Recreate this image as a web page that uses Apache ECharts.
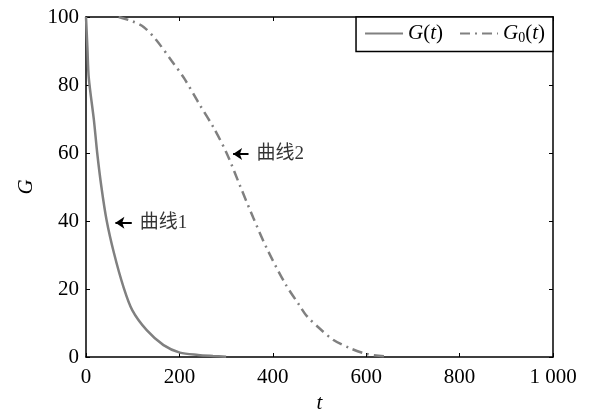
<!DOCTYPE html>
<html>
<head>
<meta charset="utf-8">
<script src="https://cdn.jsdelivr.net/npm/echarts@6/dist/echarts.min.js"></script>
<style>html,body{margin:0;padding:0;background:#fff;}#c{width:597px;height:411px;}</style>
</head>
<body>
<div id="c"></div>
<script>
// Curve 1: G(t)
const t1 = [0, 3, 6, 17, 24, 33, 44, 60, 80, 99, 130, 166, 201, 240, 272, 300];
const g1 = [100, 91, 82, 69.6, 60, 50, 40.3, 30.5, 20.7, 13.8, 7.9, 3.5, 1.3, 0.6, 0.3, 0.1];
// Curve 2: G0(t)
const t2 = [70, 100, 124, 150, 184, 210, 240, 273, 301, 330, 358, 387, 426, 458, 473, 501, 530, 565, 601, 644];
const g2 = [100, 98.7, 97, 93.3, 87, 82, 75, 67.5, 60, 50.3, 41, 32, 21.7, 15, 12, 8.3, 5, 2.6, 0.9, 0.1];
// Tick labels
const xTicks = [0, 200, 400, 600, 800, 1000];
const xTickLabels = ['0', '200', '400', '600', '800', '1 000'];
const yTicks = [0, 20, 40, 60, 80, 100];
const yTickLabels = ['0', '20', '40', '60', '80', '100'];
// Annotations
const annotText = ['曲线1', '曲线2'];
const annotTip = [[63, 39.5], [315, 59.7]];
const annotTail = [[98, 39.5], [348, 59.7]];

const serif = '"Liberation Serif", "Times New Roman", serif';
const chart = echarts.init(document.getElementById('c'));

const pair = (ts, gs) => ts.map((t, i) => [t, gs[i]]);
const gray = '#808080';

const axisCommon = {
  axisLine: { show: true, onZero: false, lineStyle: { color: '#000', width: 1.5 } },
  axisTick: { show: true, inside: true, length: 4, lineStyle: { color: '#000', width: 1 } },
  splitLine: { show: false }
};

chart.setOption({
  backgroundColor: '#fff',
  animation: false,
  grid: { left: 86, right: 44, top: 17, bottom: 54, containLabel: false, outerBoundsMode: 'none' },
  legend: {
    right: 44, top: 17,
    orient: 'horizontal',
    backgroundColor: '#fff',
    borderColor: '#000', borderWidth: 1.5, borderRadius: 0,
    padding: [6, 8, 6, 8],
    itemGap: 16, itemWidth: 38, itemHeight: 14,
    itemStyle: { color: 'rgba(0,0,0,0)', borderColor: 'rgba(0,0,0,0)', borderWidth: 0 },
    data: ['G(t)', 'G0(t)'],
    formatter: function (name) {
      return name === 'G(t)' ? '{i|G}({i|t})' : '{i|G}{s|0}({i|t})';
    },
    textStyle: {
      fontFamily: serif, fontSize: 21, color: '#000',
      rich: {
        i: { fontFamily: serif, fontSize: 21, fontStyle: 'italic', color: '#000' },
        s: { fontFamily: serif, fontSize: 14, color: '#000', verticalAlign: 'bottom', padding: [10, 0, 0, 0] }
      }
    }
  },
  xAxis: [
    Object.assign({}, axisCommon, {
      type: 'value', min: 0, max: 1000, interval: 200, position: 'bottom',
      name: 't', nameLocation: 'middle', nameGap: 32,
      nameTextStyle: { fontFamily: serif, fontSize: 21, fontStyle: 'italic', color: '#000' },
      axisLabel: {
        margin: 10, fontFamily: serif, fontSize: 21, color: '#000',
        formatter: v => xTickLabels[xTicks.indexOf(v)]
      }
    }),
    Object.assign({}, axisCommon, {
      type: 'value', min: 0, max: 1000, interval: 200, position: 'top',
      axisLabel: { show: false }
    })
  ],
  yAxis: [
    Object.assign({}, axisCommon, {
      type: 'value', min: 0, max: 100, interval: 20, position: 'left',
      name: 'G', nameLocation: 'middle', nameGap: 38, nameRotate: 90,
      nameTextStyle: { fontFamily: serif, fontSize: 21, fontStyle: 'italic', color: '#000' },
      axisLabel: {
        margin: 7, fontFamily: serif, fontSize: 21, color: '#000',
        formatter: v => yTickLabels[yTicks.indexOf(v)]
      }
    }),
    Object.assign({}, axisCommon, {
      type: 'value', min: 0, max: 100, interval: 20, position: 'right',
      axisLabel: { show: false }
    })
  ],
  series: [
    {
      name: 'G(t)', type: 'line', data: pair(t1, g1), smooth: 0.3,
      symbol: 'none', lineStyle: { color: gray, width: 2.5 }, itemStyle: { color: gray }, z: 3
    },
    {
      name: 'G0(t)', type: 'line', data: pair(t2, g2), smooth: 0.3,
      symbol: 'none', lineStyle: { color: gray, width: 2.5, type: [10, 5, 2, 5] }, itemStyle: { color: gray }, z: 3
    },
    {
      name: 'annot', type: 'scatter', symbolSize: 0, silent: true, z: 5,
      data: annotTail.map((p, i) => ({ value: p, name: annotText[i] })),
      label: {
        show: true, position: 'right', distance: 8,
        formatter: p => p.name,
        fontFamily: '"Liberation Serif", "Noto Sans CJK SC", sans-serif',
        fontSize: 19, color: '#000'
      },
      markLine: {
        silent: true, symbol: ['none', 'arrow'], symbolSize: [9, 9],
        label: { show: false },
        lineStyle: { color: '#000', width: 2, type: 'solid' },
        data: annotTail.map((p, i) => [{ coord: p }, { coord: annotTip[i] }])
      }
    }
  ]
});
</script>
</body>
</html>
